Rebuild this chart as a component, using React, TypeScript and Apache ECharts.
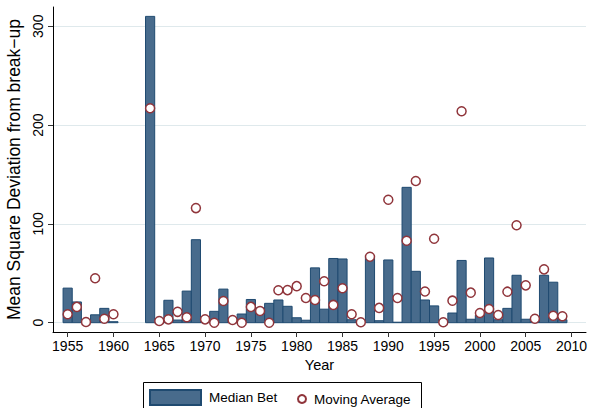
import React, { useEffect, useRef } from 'react';
import * as echarts from 'echarts';

const years = [
  1955, 1956, 1957, 1958, 1959, 1960,
  1964, 1965, 1966, 1967, 1968, 1969, 1970, 1971, 1972, 1973, 1974, 1975, 1976, 1977, 1978, 1979,
  1980, 1981, 1982, 1983, 1984, 1985, 1986, 1987, 1988, 1989, 1990, 1991, 1992, 1993, 1994, 1995,
  1996, 1997, 1998, 1999, 2000, 2001, 2002, 2003, 2004, 2005, 2006, 2007, 2008, 2009,
];

const medianBet = [
  35, 21, 0, 8, 14.5, 1,
  310, 0, 22.7, 2.7, 32, 84, 0.5, 11.5, 34, 1, 8.8, 23.5, 15, 19.6, 23, 16.6,
  5, 2.5, 55.5, 13.7, 65, 64.5, 3, 0.5, 66.5, 2, 63.5, 0.5, 137, 52, 23, 17,
  0, 9.8, 63, 3.5, 7.5, 65.5, 3, 14.5, 48, 3.5, 1, 48, 41, 3,
];

const movingAverage = [
  8.5, 16, 0.7, 45, 4, 8.5,
  217, 1.7, 3.4, 11, 5.5, 116, 3.4, 0, 22, 2.7, 0, 16, 11.8, 0, 32.8, 33,
  37, 25, 23, 42, 18, 34.8, 8.5, 0.4, 66.8, 15, 124.5, 25, 83, 143.4, 31.6, 85,
  0.4, 22.3, 214, 30.4, 9.8, 13.9, 7.8, 31.4, 98.6, 37.8, 4, 54, 7, 6.5,
];

const xTickValues = [1955, 1960, 1965, 1970, 1975, 1980, 1985, 1990, 1995, 2000, 2005, 2010];
const yTickValues = [0, 100, 200, 300];

export default function App() {
  const ref = useRef<HTMLDivElement>(null);

  useEffect(() => {
    document.body.style.margin = '0';
    const chart = echarts.init(ref.current!, null, { renderer: 'svg' });
    const font = "'Liberation Sans', Arial, Helvetica, sans-serif";
    const barFill = '#486b8c';
    const barStroke = '#1f4a70';
    const maroon = '#90353b';

    chart.setOption({
      animation: false,
      backgroundColor: '#ffffff',
      textStyle: { fontFamily: font, color: '#000' },
      grid: {
        left: 53,
        right: 4,
        top: 7,
        bottom: 76,
        containLabel: false,
        outerBoundsMode: 'none',
      },
      xAxis: {
        type: 'value',
        min: 1953.4,
        max: 2011.58,
        name: 'Year',
        nameLocation: 'middle',
        nameGap: 25,
        nameTextStyle: { fontFamily: font, fontSize: 14.5, color: '#000' },
        axisLine: { show: true, onZero: false, lineStyle: { color: '#000', width: 1 } },
        axisTick: {
          show: true,
          length: 5,
          customValues: xTickValues,
          lineStyle: { color: '#333', width: 1 },
        },
        axisLabel: {
          customValues: xTickValues,
          formatter: (v: number) => String(v),
          fontFamily: font,
          fontSize: 14,
          color: '#000',
          margin: 7,
        },
        splitLine: { show: false },
      },
      yAxis: {
        type: 'value',
        min: -9.41,
        max: 319.5,
        name: 'Mean Square Deviation from break−up',
        nameLocation: 'middle',
        nameRotate: 90,
        nameGap: 24,
        nameTextStyle: { fontFamily: font, fontSize: 17.5, color: '#000' },
        axisLine: { show: true, onZero: false, lineStyle: { color: '#000', width: 1 } },
        axisTick: {
          show: true,
          length: 5,
          customValues: yTickValues,
          lineStyle: { color: '#333', width: 1 },
        },
        axisLabel: {
          customValues: yTickValues,
          formatter: (v: number) => String(v),
          rotate: 90,
          fontFamily: font,
          fontSize: 14,
          color: '#000',
          margin: 8,
        },
        splitLine: { show: true, lineStyle: { color: '#dfe9ec', width: 1 } },
      },
      legend: [
        {
          data: [{ name: 'Median Bet', icon: 'rect' }],
          left: 149,
          top: 389,
          padding: 0,
          itemWidth: 51,
          itemHeight: 15,
          textStyle: { fontFamily: font, fontSize: 13.5, color: '#000', padding: [0, 0, 0, 3] },
          selectedMode: false,
        },
        {
          data: [{ name: 'Moving Average', icon: 'circle' }],
          left: 297,
          top: 392,
          padding: 0,
          itemWidth: 8,
          itemHeight: 8,
          textStyle: { fontFamily: font, fontSize: 13.5, color: '#000', padding: [0, 0, 0, 3] },
          selectedMode: false,
        },
      ],
      graphic: [
        {
          type: 'rect',
          shape: { x: 143.5, y: 382.5, width: 278, height: 40 },
          style: { fill: 'none', stroke: '#000', lineWidth: 1 },
          silent: true,
          z: 100,
        },
      ],
      series: [
        {
          name: 'Median Bet',
          type: 'custom',
          itemStyle: { color: barFill, borderColor: barStroke, borderWidth: 1 },
          encode: { x: 0, y: 1 },
          data: years.map((y, i) => [y, medianBet[i]]),
          renderItem: (params: any, api: any) => {
            const yr = api.value(0);
            const v = api.value(1);
            const p0 = api.coord([yr - 0.5, v]);
            const p1 = api.coord([yr + 0.5, 0]);
            return {
              type: 'rect',
              shape: { x: p0[0], y: p0[1], width: p1[0] - p0[0], height: p1[1] - p0[1] },
              style: { fill: barFill, stroke: barStroke, lineWidth: 1 },
            };
          },
          z: 2,
        },
        {
          name: 'Moving Average',
          type: 'scatter',
          symbol: 'circle',
          symbolSize: 9,
          itemStyle: { color: '#ffffff', borderColor: maroon, borderWidth: 1.5, opacity: 1 },
          data: years.map((y, i) => [y, movingAverage[i]]),
          z: 3,
        },
      ],
    });

    return () => chart.dispose();
  }, []);

  return (
    <div
      ref={ref}
      style={{ position: 'fixed', left: 0, top: 0, width: 590, height: 408 }}
    />
  );
}
